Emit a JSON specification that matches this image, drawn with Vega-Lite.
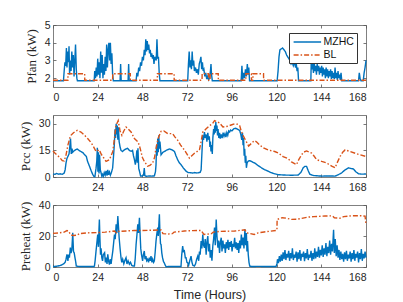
{
"$schema": "https://vega.github.io/schema/vega-lite/v6.json",
"padding": {"left": 18, "top": 19, "right": 38, "bottom": 1},
"autosize": {"type": "pad"},
"spacing": 28,
"bounds": "flush",
"background": "white",
"config": {
  "view": {"stroke": "#808080", "strokeWidth": 1},
  "axis": {"domain": false, "grid": false, "ticks": true, "tickSize": -3, "tickColor": "#555555", "tickWidth": 0.8,
           "labelFont": "Liberation Sans", "labelFontSize": 10.5, "labelColor": "#262626", "labelPadding": 8,
           "titleFont": "Liberation Sans", "titleFontSize": 12.5, "titleColor": "#262626", "titleFontWeight": "normal"},
  "axisY": {"titleFont": "Liberation Serif", "titleFontSize": 13, "titlePadding": 6, "labelPadding": 6},
  "legend": {"orient": "none", "legendX": 236, "legendY": 8, "title": null, "fillColor": "white", "strokeColor": "#333333",
             "padding": 2.5, "labelFont": "Liberation Sans", "labelFontSize": 10.5, "labelColor": "#111111",
             "symbolType": "M-0.8,0H4.2", "symbolSize": 121, "symbolStrokeWidth": 1.4, "labelOffset": 19, "rowPadding": 1},
  "line": {"strokeWidth": 1.4, "clip": true}
},
"resolve": {"scale": {"color": "independent", "strokeDash": "independent"}, "legend": {"color": "independent", "strokeDash": "independent"}},
"datasets": {
 "fanM": [{"t":0,"v":1.85},{"t":5.6,"v":1.85},{"t":6,"v":2.4},{"t":6.4,"v":2.9},{"t":6.8,"v":2.7},{"t":7.2,"v":3.7},{"t":7.5,"v":2.6},{"t":7.9,"v":3.5},{"t":8.3,"v":2.9},{"t":8.6,"v":3.8},{"t":8.9,"v":2.2},{"t":9.3,"v":3.0},{"t":9.7,"v":2.4},{"t":10.1,"v":3.5},{"t":10.5,"v":2.6},{"t":10.9,"v":3.3},{"t":11.3,"v":2.1},{"t":11.7,"v":3.0},{"t":12.1,"v":3.9},{"t":12.5,"v":2.5},{"t":12.8,"v":2.0},{"t":13.1,"v":1.85},
  {"t":22.1,"v":1.85},{"t":22.4,"v":2.4},{"t":22.8,"v":2.0},{"t":23.2,"v":2.6},{"t":23.6,"v":2.1},{"t":24,"v":3.1},{"t":24.4,"v":2.2},{"t":24.8,"v":2.9},{"t":25.2,"v":2.0},{"t":25.6,"v":3.5},{"t":26,"v":2.3},{"t":26.4,"v":3.3},{"t":26.8,"v":2.0},{"t":27.2,"v":2.8},{"t":27.6,"v":2.2},{"t":28,"v":3.2},{"t":28.4,"v":2.4},{"t":28.8,"v":3.9},{"t":29.2,"v":2.6},{"t":29.6,"v":3.6},{"t":30,"v":4.0},{"t":30.4,"v":3.0},{"t":30.8,"v":4.0},{"t":31.2,"v":2.8},{"t":31.6,"v":3.4},{"t":32,"v":2.2},{"t":32.4,"v":1.85},
  {"t":36,"v":1.85},{"t":36.3,"v":2.8},{"t":36.6,"v":1.85},{"t":40.3,"v":1.85},{"t":40.6,"v":2.8},{"t":40.9,"v":1.85},
  {"t":44.6,"v":1.85},{"t":45,"v":2.3},{"t":45.5,"v":2.1},{"t":46,"v":2.6},{"t":46.5,"v":2.4},{"t":47,"v":2.9},{"t":47.5,"v":2.7},{"t":48,"v":3.2},{"t":48.5,"v":3.0},{"t":49,"v":3.6},{"t":49.4,"v":3.3},{"t":49.8,"v":4.2},{"t":50.2,"v":3.5},{"t":50.6,"v":4.1},{"t":51,"v":3.6},{"t":51.4,"v":3.9},{"t":51.8,"v":3.4},{"t":52.2,"v":3.6},{"t":52.6,"v":3.2},{"t":53,"v":3.4},{"t":53.4,"v":3.1},{"t":53.8,"v":3.3},{"t":54.2,"v":2.8},{"t":54.6,"v":3.2},{"t":55,"v":3.1},{"t":55.4,"v":3.0},{"t":55.8,"v":4.2},{"t":56.2,"v":3.1},{"t":56.6,"v":3.2},{"t":57,"v":2.3},{"t":57.4,"v":1.85},
  {"t":72.3,"v":1.85},{"t":72.7,"v":2.8},{"t":73.1,"v":3.5},{"t":73.5,"v":2.6},{"t":73.9,"v":3.0},{"t":74.3,"v":2.5},{"t":74.7,"v":3.5},{"t":75.1,"v":2.7},{"t":75.5,"v":3.0},{"t":75.9,"v":2.4},{"t":76.5,"v":2.6},{"t":77,"v":2.3},{"t":77.5,"v":2.5},{"t":78,"v":2.2},{"t":78.5,"v":2.8},{"t":79,"v":3.0},{"t":79.4,"v":3.2},{"t":79.8,"v":2.5},{"t":80.2,"v":2.9},{"t":80.6,"v":2.4},{"t":81,"v":2.5},{"t":81.5,"v":2.1},{"t":82,"v":2.3},{"t":82.5,"v":1.95},{"t":83,"v":2.1},{"t":83.5,"v":1.9},{"t":84,"v":2.0},{"t":84.5,"v":2.4},{"t":84.8,"v":2.8},{"t":85.1,"v":2.2},{"t":85.5,"v":1.85},
  {"t":101,"v":1.85},{"t":101.4,"v":2.7},{"t":101.8,"v":1.9},{"t":102.3,"v":2.3},{"t":102.8,"v":2.0},{"t":103.3,"v":2.5},{"t":103.8,"v":2.1},{"t":104.3,"v":2.8},{"t":104.7,"v":2.2},{"t":105.1,"v":2.6},{"t":105.5,"v":1.85},
  {"t":120.3,"v":1.85},{"t":120.8,"v":2.4},{"t":121.3,"v":3.2},{"t":121.8,"v":3.6},{"t":122.5,"v":3.65},{"t":123.2,"v":3.7},{"t":124,"v":3.6},{"t":124.7,"v":3.5},{"t":125.4,"v":3.3},{"t":126,"v":3.2},{"t":126.6,"v":3.1},{"t":127.2,"v":3.0},{"t":127.8,"v":2.8},{"t":128.4,"v":2.9},{"t":129,"v":2.7},{"t":129.6,"v":2.9},{"t":130.2,"v":2.6},{"t":130.6,"v":2.8},{"t":131,"v":2.4},{"t":131.4,"v":2.6},{"t":131.8,"v":1.85},
  {"t":138.4,"v":1.85},{"t":138.6,"v":2.9},{"t":139,"v":2.5},{"t":139.4,"v":2.8},{"t":139.8,"v":2.3},{"t":140.2,"v":2.9},{"t":140.6,"v":2.4},{"t":141,"v":2.7},{"t":141.4,"v":2.2},{"t":141.8,"v":2.8},{"t":142.2,"v":2.4},{"t":142.6,"v":2.7},{"t":143,"v":2.2},{"t":143.4,"v":2.6},{"t":143.8,"v":2.3},{"t":144.2,"v":2.7},{"t":144.6,"v":2.1},{"t":145,"v":2.6},{"t":145.4,"v":2.2},{"t":145.8,"v":2.5},{"t":146.2,"v":2.0},{"t":146.6,"v":2.6},{"t":147,"v":2.1},{"t":147.4,"v":2.5},{"t":147.8,"v":2.0},{"t":148.2,"v":2.4},{"t":148.6,"v":2.1},{"t":149,"v":2.5},{"t":149.4,"v":1.95},{"t":149.8,"v":2.4},{"t":150.2,"v":2.0},{"t":150.6,"v":2.3},{"t":151,"v":1.95},{"t":151.4,"v":2.6},{"t":151.8,"v":2.0},{"t":152.2,"v":2.3},{"t":152.6,"v":1.9},{"t":153,"v":2.4},{"t":153.4,"v":2.0},{"t":153.8,"v":2.2},{"t":154.2,"v":1.9},{"t":154.6,"v":2.3},{"t":155,"v":1.85},
  {"t":164,"v":1.85},{"t":164.4,"v":2.3},{"t":164.8,"v":2.0},{"t":165.3,"v":1.85},{"t":166.5,"v":1.85},{"t":167,"v":2.3},{"t":167.5,"v":2.6},{"t":168,"v":3.0}],
 "fanB": [{"t":0,"v":1.88},{"t":8,"v":1.88},{"t":8.05,"v":2.25},{"t":17,"v":2.25},{"t":17.05,"v":1.88},{"t":32,"v":1.88},{"t":32.05,"v":2.25},{"t":41.5,"v":2.25},{"t":41.55,"v":1.88},{"t":56,"v":1.88},{"t":56.05,"v":2.25},{"t":65,"v":2.25},{"t":65.05,"v":1.88},{"t":80,"v":1.88},{"t":80.05,"v":2.25},{"t":83.5,"v":2.25},{"t":83.55,"v":1.88},{"t":84.3,"v":1.88},{"t":84.35,"v":2.25},{"t":88.7,"v":2.25},{"t":88.75,"v":1.88},{"t":103.5,"v":1.88},{"t":103.55,"v":2.25},{"t":106.5,"v":2.25},{"t":106.55,"v":1.88},{"t":107.3,"v":1.88},{"t":107.35,"v":2.25},{"t":113,"v":2.25},{"t":113.05,"v":1.88},{"t":168,"v":1.88}],
 "ccM": [{"t":0,"v":1.8},{"t":1,"v":1.5},{"t":2,"v":2.0},{"t":3,"v":1.6},{"t":4,"v":1.8},{"t":5,"v":1.5},{"t":6,"v":2.2},{"t":6.5,"v":4},{"t":7,"v":8},{"t":7.5,"v":10.5},{"t":8,"v":11.6},{"t":8.6,"v":13},{"t":9,"v":17},{"t":9.4,"v":21.7},{"t":9.8,"v":13},{"t":10.2,"v":16},{"t":10.6,"v":14},{"t":11,"v":14.5},{"t":12,"v":15.3},{"t":13,"v":15.8},{"t":14,"v":15},{"t":15,"v":14.4},{"t":16,"v":13.8},{"t":17,"v":12.5},{"t":17.9,"v":11.6},{"t":18.5,"v":9},{"t":19.6,"v":6},{"t":20.5,"v":3.5},{"t":21.3,"v":1.5},{"t":22,"v":0.3},{"t":22.5,"v":0.2},{"t":23.1,"v":5},{"t":23.5,"v":9},{"t":23.8,"v":16.5},{"t":24.1,"v":3},{"t":24.4,"v":14},{"t":24.7,"v":2},{"t":25,"v":12.5},{"t":25.4,"v":4},{"t":25.8,"v":2.4},{"t":26.2,"v":0.5},{"t":26.6,"v":1.5},{"t":27,"v":0.4},{"t":27.5,"v":2.5},{"t":28,"v":1},{"t":28.5,"v":3.5},{"t":29,"v":0.8},{"t":29.4,"v":4},{"t":29.8,"v":1.2},{"t":30.3,"v":2.8},{"t":30.8,"v":1},{"t":31.3,"v":2.4},{"t":32,"v":5},{"t":32.5,"v":12},{"t":32.9,"v":18},{"t":33.3,"v":27},{"t":33.6,"v":22},{"t":33.9,"v":30},{"t":34.2,"v":24},{"t":34.5,"v":29},{"t":34.8,"v":21},{"t":35.1,"v":28},{"t":35.5,"v":20},{"t":36,"v":17},{"t":36.5,"v":15},{"t":37.3,"v":14.4},{"t":38.5,"v":15.5},{"t":40,"v":16.2},{"t":41,"v":15},{"t":42,"v":14.5},{"t":42.7,"v":15},{"t":43.2,"v":12},{"t":43.7,"v":9.8},{"t":44.2,"v":7},{"t":44.6,"v":10},{"t":45,"v":15},{"t":45.3,"v":8},{"t":45.6,"v":16.2},{"t":46,"v":5},{"t":46.4,"v":3.3},{"t":47,"v":0.6},{"t":48,"v":0.6},{"t":48.6,"v":1.1},{"t":49,"v":5},{"t":49.3,"v":0.8},{"t":50,"v":0.4},{"t":51,"v":0.5},{"t":52,"v":0.6},{"t":53,"v":0.5},{"t":54.4,"v":0.6},{"t":55,"v":3},{"t":55.3,"v":7},{"t":55.6,"v":18},{"t":55.9,"v":12},{"t":56.2,"v":21.7},{"t":56.5,"v":14},{"t":56.8,"v":23.5},{"t":57.1,"v":16},{"t":57.4,"v":20},{"t":58,"v":12.5},{"t":59,"v":14},{"t":59.8,"v":14.4},{"t":61,"v":15.2},{"t":62.5,"v":15.8},{"t":64,"v":15.3},{"t":65.2,"v":14.4},{"t":66,"v":12},{"t":66.9,"v":9.8},{"t":67.8,"v":8},{"t":68.7,"v":7},{"t":70,"v":5},{"t":71.4,"v":3.3},{"t":72.5,"v":2.5},{"t":74.1,"v":2.4},{"t":75,"v":2.2},{"t":76,"v":2.5},{"t":77,"v":2.3},{"t":78,"v":2.4},{"t":79,"v":2.6},{"t":79.5,"v":4},{"t":80,"v":15},{"t":80.4,"v":23.5},{"t":80.8,"v":21},{"t":81.3,"v":25.4},{"t":81.7,"v":22},{"t":82.2,"v":24},{"t":82.6,"v":20},{"t":83.1,"v":25},{"t":83.5,"v":21},{"t":83.9,"v":23},{"t":84.2,"v":17},{"t":84.5,"v":20},{"t":84.8,"v":14.4},{"t":85.1,"v":18},{"t":85.5,"v":13},{"t":85.8,"v":22},{"t":86.2,"v":27},{"t":86.5,"v":24},{"t":86.8,"v":29},{"t":87.1,"v":25},{"t":87.4,"v":31},{"t":87.7,"v":26},{"t":88,"v":29},{"t":88.3,"v":23.5},{"t":88.6,"v":27},{"t":89,"v":22},{"t":89.4,"v":25},{"t":89.8,"v":21.7},{"t":90.3,"v":24},{"t":90.8,"v":22},{"t":91.3,"v":25},{"t":91.8,"v":23},{"t":92.3,"v":24.5},{"t":92.8,"v":22.5},{"t":93.3,"v":25},{"t":93.8,"v":23.5},{"t":94.3,"v":26},{"t":94.8,"v":25.4},{"t":95.3,"v":26.5},{"t":96,"v":26},{"t":97,"v":27.2},{"t":98,"v":27.5},{"t":99,"v":27},{"t":100.2,"v":26.3},{"t":100.8,"v":24},{"t":101.3,"v":21},{"t":101.7,"v":25},{"t":102,"v":18},{"t":102.3,"v":22},{"t":102.6,"v":12},{"t":102.9,"v":16},{"t":103.2,"v":8},{"t":103.5,"v":12},{"t":103.8,"v":5.2},{"t":104.2,"v":8},{"t":104.8,"v":9},{"t":105.6,"v":9.2},{"t":106.5,"v":8.8},{"t":107.5,"v":8.2},{"t":108.3,"v":7.9},{"t":110,"v":6.5},{"t":111.9,"v":5.2},{"t":113.5,"v":4.2},{"t":115.4,"v":3.3},{"t":117,"v":2.5},{"t":119,"v":1.8},{"t":121,"v":1.3},{"t":124.4,"v":1.1},{"t":128,"v":1.0},{"t":131.6,"v":1.1},{"t":133,"v":2.5},{"t":134.3,"v":5.2},{"t":135.2,"v":6},{"t":136.1,"v":6},{"t":137,"v":3.5},{"t":137.9,"v":1.5},{"t":140,"v":0.8},{"t":144.2,"v":0.5},{"t":148,"v":0.6},{"t":151.4,"v":0.5},{"t":153,"v":1.2},{"t":155,"v":2.4},{"t":156.5,"v":3.8},{"t":158.6,"v":5.2},{"t":160,"v":4.8},{"t":161.3,"v":4.5},{"t":162.5,"v":3},{"t":164,"v":1.8},{"t":166,"v":1.6},{"t":168,"v":1.7}],
 "ccB": [{"t":0,"v":14.7},{"t":1,"v":13.5},{"t":2,"v":12.5},{"t":3,"v":11.6},{"t":4,"v":10.5},{"t":5,"v":9.2},{"t":6,"v":9},{"t":7,"v":12.5},{"t":8,"v":18},{"t":9,"v":22},{"t":9.6,"v":23.5},{"t":11,"v":25},{"t":13,"v":26.3},{"t":15,"v":25.4},{"t":17,"v":23.5},{"t":18.6,"v":21.7},{"t":20,"v":20},{"t":21.3,"v":18},{"t":23.1,"v":14.4},{"t":24.9,"v":15.3},{"t":25.8,"v":13},{"t":26.7,"v":11.6},{"t":28.5,"v":8.8},{"t":30.3,"v":9.8},{"t":32.1,"v":14.4},{"t":33,"v":22},{"t":33.8,"v":29},{"t":35,"v":31.8},{"t":36,"v":26},{"t":37,"v":23.5},{"t":38,"v":26},{"t":39.2,"v":28.2},{"t":40.5,"v":27},{"t":41.9,"v":25.4},{"t":43.7,"v":21.7},{"t":45.5,"v":19.9},{"t":46.3,"v":18},{"t":47.2,"v":14.4},{"t":48,"v":11},{"t":49,"v":8.8},{"t":50.8,"v":6.1},{"t":52,"v":6.5},{"t":53.5,"v":7.9},{"t":54.5,"v":11},{"t":55.3,"v":16.2},{"t":56.5,"v":22},{"t":58,"v":25.8},{"t":59.5,"v":26},{"t":61.6,"v":24.5},{"t":64.2,"v":24.5},{"t":65.5,"v":22.5},{"t":66.9,"v":20.8},{"t":68.5,"v":18},{"t":70.5,"v":15.3},{"t":73.2,"v":10.7},{"t":74.5,"v":12},{"t":75.9,"v":13.4},{"t":78.6,"v":15.3},{"t":79.5,"v":20},{"t":80.4,"v":25.4},{"t":82.2,"v":27.2},{"t":84,"v":29},{"t":85.5,"v":30},{"t":86.7,"v":31.8},{"t":89.4,"v":30.5},{"t":91.2,"v":28.2},{"t":93.9,"v":28.7},{"t":96,"v":29.5},{"t":97.5,"v":30},{"t":99,"v":29.8},{"t":100.2,"v":29},{"t":101,"v":26},{"t":102,"v":23.5},{"t":103.8,"v":19.9},{"t":105,"v":17.5},{"t":106.5,"v":19},{"t":108,"v":20.5},{"t":109.2,"v":19.9},{"t":111,"v":18},{"t":113,"v":16.5},{"t":115.4,"v":15.3},{"t":119,"v":14.4},{"t":121,"v":13.5},{"t":123.5,"v":11.5},{"t":126,"v":10.5},{"t":128,"v":8.5},{"t":130.7,"v":7},{"t":132,"v":10},{"t":133.4,"v":12.5},{"t":134.5,"v":14},{"t":136.1,"v":14.7},{"t":138.8,"v":13.5},{"t":140,"v":12},{"t":141.5,"v":9.8},{"t":144.2,"v":8.8},{"t":146.9,"v":7.9},{"t":149.6,"v":6.1},{"t":151.4,"v":5.2},{"t":152.5,"v":8},{"t":154.1,"v":11.6},{"t":155.5,"v":14},{"t":156.8,"v":15.3},{"t":159.5,"v":14.4},{"t":162.2,"v":13.4},{"t":164.9,"v":12.5},{"t":168,"v":11.6}],
 "rhM": [{"t":0,"v":0.3},{"t":2,"v":0.5},{"t":4,"v":1},{"t":5.7,"v":2},{"t":6.5,"v":3},{"t":7,"v":5},{"t":7.5,"v":8.2},{"t":8,"v":4},{"t":8.4,"v":8},{"t":8.8,"v":6},{"t":9.3,"v":12.5},{"t":9.7,"v":9},{"t":10.1,"v":11},{"t":10.6,"v":22},{"t":11,"v":10},{"t":11.4,"v":9},{"t":11.8,"v":6},{"t":12.1,"v":4},{"t":12.5,"v":0.6},{"t":14,"v":0.3},{"t":18,"v":0.3},{"t":22.2,"v":0.3},{"t":22.6,"v":4},{"t":23.1,"v":10.3},{"t":23.5,"v":15},{"t":24,"v":21},{"t":24.4,"v":13},{"t":24.7,"v":25},{"t":24.9,"v":30.7},{"t":25.2,"v":18},{"t":25.5,"v":8},{"t":25.8,"v":12},{"t":26.2,"v":6},{"t":26.6,"v":4},{"t":27,"v":8},{"t":27.7,"v":9.2},{"t":28.1,"v":3},{"t":28.5,"v":6},{"t":29,"v":2},{"t":29.4,"v":8.2},{"t":29.8,"v":4},{"t":30.3,"v":1.5},{"t":30.7,"v":5},{"t":31.2,"v":2},{"t":31.6,"v":6},{"t":32.1,"v":10.3},{"t":32.5,"v":15},{"t":33,"v":21},{"t":33.4,"v":18},{"t":33.9,"v":27.5},{"t":34.3,"v":22},{"t":34.8,"v":32.9},{"t":35.2,"v":25},{"t":35.5,"v":18.9},{"t":36,"v":12},{"t":36.5,"v":6},{"t":36.9,"v":3},{"t":37.4,"v":5},{"t":38,"v":2},{"t":38.5,"v":4},{"t":39.2,"v":6},{"t":39.7,"v":2},{"t":40.3,"v":4},{"t":41,"v":1.8},{"t":41.6,"v":3},{"t":42.3,"v":1},{"t":43,"v":0.6},{"t":43.7,"v":0.6},{"t":44.1,"v":5},{"t":44.6,"v":14.6},{"t":45,"v":20},{"t":45.5,"v":27.5},{"t":45.9,"v":22},{"t":46.4,"v":31.8},{"t":46.8,"v":20},{"t":47.1,"v":12},{"t":47.5,"v":8},{"t":48.1,"v":4},{"t":48.5,"v":8},{"t":49,"v":10.3},{"t":49.4,"v":5},{"t":49.9,"v":7},{"t":50.3,"v":4},{"t":50.8,"v":5},{"t":51.3,"v":3},{"t":51.7,"v":6},{"t":52.2,"v":4},{"t":52.6,"v":7},{"t":53.1,"v":3},{"t":53.5,"v":5},{"t":54,"v":3},{"t":54.4,"v":4},{"t":54.8,"v":9},{"t":55.3,"v":16.8},{"t":55.7,"v":21},{"t":56.2,"v":25.4},{"t":56.5,"v":20},{"t":57.1,"v":34},{"t":57.4,"v":22},{"t":57.7,"v":15},{"t":58,"v":14.5},{"t":58.4,"v":9},{"t":58.8,"v":6},{"t":59.3,"v":3.5},{"t":59.8,"v":2.5},{"t":60.3,"v":1},{"t":60.7,"v":0.2},{"t":62,"v":0.3},{"t":65,"v":0.3},{"t":68.7,"v":0.3},{"t":69.1,"v":8},{"t":69.6,"v":13.5},{"t":70,"v":10},{"t":70.5,"v":10.5},{"t":71,"v":6},{"t":71.4,"v":6},{"t":71.9,"v":3},{"t":72.3,"v":2.7},{"t":72.8,"v":1},{"t":73.4,"v":4},{"t":74.1,"v":7},{"t":74.6,"v":3},{"t":75.1,"v":1},{"t":75.9,"v":0.6},{"t":76.5,"v":2},{"t":77.1,"v":5},{"t":77.7,"v":7},{"t":78.2,"v":4},{"t":78.6,"v":10},{"t":79,"v":8},{"t":79.5,"v":16.8},{"t":79.9,"v":12},{"t":80.4,"v":21},{"t":80.8,"v":14},{"t":81.3,"v":12.5},{"t":81.7,"v":18},{"t":82.2,"v":8},{"t":82.6,"v":16},{"t":83.1,"v":20},{"t":83.5,"v":10},{"t":84,"v":15},{"t":84.4,"v":6},{"t":84.9,"v":11},{"t":85.3,"v":4},{"t":85.8,"v":14},{"t":86.2,"v":18},{"t":86.7,"v":25.4},{"t":87.1,"v":14},{"t":87.6,"v":30.7},{"t":88,"v":20},{"t":88.5,"v":12.5},{"t":88.9,"v":17},{"t":89.4,"v":9},{"t":89.8,"v":16},{"t":90.3,"v":18.9},{"t":90.7,"v":10},{"t":91.2,"v":17},{"t":91.6,"v":12},{"t":92.1,"v":14.6},{"t":92.5,"v":9},{"t":93,"v":16},{"t":93.4,"v":12},{"t":93.9,"v":17.6},{"t":94.3,"v":11},{"t":94.8,"v":16},{"t":95.2,"v":13},{"t":95.7,"v":16.8},{"t":96.1,"v":10},{"t":96.6,"v":15},{"t":97,"v":13},{"t":97.5,"v":18.9},{"t":97.9,"v":12},{"t":98.4,"v":16},{"t":98.8,"v":11},{"t":99.3,"v":15.5},{"t":99.7,"v":9},{"t":100.2,"v":17},{"t":100.6,"v":12},{"t":101.1,"v":21},{"t":101.5,"v":14},{"t":102,"v":19},{"t":102.5,"v":12},{"t":103,"v":24.3},{"t":103.4,"v":14},{"t":103.8,"v":22},{"t":104.1,"v":10},{"t":104.4,"v":16.8},{"t":104.8,"v":8},{"t":105.2,"v":3},{"t":105.6,"v":0.6},{"t":106.5,"v":0.3},{"t":110,"v":0.4},{"t":115,"v":0.3},{"t":119.7,"v":0.3},{"t":120.2,"v":2},{"t":120.5,"v":5},{"t":121,"v":2.5},{"t":121.5,"v":7},{"t":122,"v":3.5},{"t":122.5,"v":8},{"t":123,"v":4},{"t":123.5,"v":9.5},{"t":124,"v":5},{"t":124.5,"v":11},{"t":125,"v":4.5},{"t":125.5,"v":8.5},{"t":126,"v":6},{"t":126.5,"v":10.5},{"t":127,"v":4},{"t":127.5,"v":9},{"t":128,"v":5.5},{"t":128.5,"v":12},{"t":129,"v":4.5},{"t":129.5,"v":8},{"t":130,"v":6},{"t":130.5,"v":10},{"t":131,"v":3.5},{"t":131.5,"v":9.5},{"t":132,"v":5},{"t":132.5,"v":11},{"t":133,"v":4},{"t":133.5,"v":8.5},{"t":134,"v":6.5},{"t":134.5,"v":10},{"t":135,"v":3.8},{"t":135.5,"v":9},{"t":136,"v":5.5},{"t":136.5,"v":11.5},{"t":137,"v":4.5},{"t":137.5,"v":8},{"t":138,"v":6},{"t":138.5,"v":10.5},{"t":139,"v":4},{"t":139.5,"v":9},{"t":140,"v":5},{"t":140.5,"v":12},{"t":141,"v":5.5},{"t":141.5,"v":10},{"t":142,"v":6.5},{"t":142.5,"v":13},{"t":143,"v":6},{"t":143.5,"v":11},{"t":144,"v":7.5},{"t":144.5,"v":14},{"t":145,"v":6.5},{"t":145.5,"v":12},{"t":146,"v":8},{"t":146.5,"v":15.5},{"t":147,"v":7},{"t":147.5,"v":13},{"t":148,"v":9},{"t":148.5,"v":17},{"t":149,"v":8},{"t":149.5,"v":15},{"t":150,"v":10},{"t":150.6,"v":24},{"t":151,"v":9},{"t":151.5,"v":18},{"t":152,"v":7},{"t":152.5,"v":14},{"t":153,"v":6},{"t":153.5,"v":11},{"t":154,"v":4.5},{"t":154.5,"v":10},{"t":155,"v":5},{"t":155.5,"v":8.5},{"t":156,"v":3.5},{"t":156.5,"v":9.5},{"t":157,"v":5},{"t":157.5,"v":10.5},{"t":158,"v":4},{"t":158.5,"v":8},{"t":159,"v":5.5},{"t":159.5,"v":10},{"t":160,"v":3.5},{"t":160.5,"v":9},{"t":161,"v":5},{"t":161.5,"v":11},{"t":162,"v":4},{"t":162.5,"v":8.5},{"t":163,"v":6},{"t":163.5,"v":10},{"t":164,"v":3},{"t":164.5,"v":9},{"t":165,"v":5},{"t":165.5,"v":11.5},{"t":166,"v":4},{"t":166.5,"v":8.5},{"t":167,"v":5.5},{"t":167.5,"v":10},{"t":168,"v":6}],
 "rhB": [{"t":0,"v":21.7},{"t":3,"v":22},{"t":6,"v":22.5},{"t":7.5,"v":23.5},{"t":8.5,"v":23},{"t":9.5,"v":20.6},{"t":11,"v":20.3},{"t":13.2,"v":20.6},{"t":14,"v":21.5},{"t":18,"v":22},{"t":24,"v":22.2},{"t":28,"v":22.5},{"t":33,"v":23.2},{"t":34,"v":22},{"t":35,"v":23},{"t":40,"v":23.3},{"t":43.6,"v":23.6},{"t":48,"v":23.5},{"t":52,"v":23.7},{"t":58,"v":23.9},{"t":59,"v":21.5},{"t":62,"v":21.3},{"t":64,"v":21.5},{"t":65,"v":22.5},{"t":70.5,"v":23.2},{"t":75,"v":23.5},{"t":79.5,"v":23.6},{"t":81,"v":21},{"t":85,"v":21.5},{"t":86,"v":22.5},{"t":90,"v":23},{"t":97.5,"v":23.2},{"t":103,"v":24},{"t":104,"v":22},{"t":106,"v":21.5},{"t":108,"v":21},{"t":110,"v":22},{"t":113.3,"v":22.6},{"t":119.7,"v":23.6},{"t":120.2,"v":23.8},{"t":120.3,"v":30.7},{"t":123,"v":31.8},{"t":125,"v":31.5},{"t":128,"v":30.7},{"t":131,"v":30.8},{"t":137,"v":32.2},{"t":140,"v":32.5},{"t":146,"v":32.9},{"t":150,"v":33},{"t":151,"v":31.8},{"t":154,"v":31.5},{"t":156,"v":32.5},{"t":160,"v":33},{"t":165,"v":33.1},{"t":167.5,"v":32.8},{"t":168,"v":27.5}]
},
"vconcat": [
 {"width": 313, "height": 62,
  "layer": [
   {"data": {"name": "fanM"}, "mark": {"type": "line"},
    "encoding": {"x": {"field": "t", "type": "quantitative", "scale": {"domain": [0,168], "nice": false, "zero": false}, "axis": {"values": [0,24,48,72,96,120,144,168], "title": null}},
                 "y": {"field": "v", "type": "quantitative", "scale": {"domain": [1.5,5], "nice": false, "zero": false}, "axis": {"values": [2,3,4,5], "title": "Pfan (kW)"}},
                 "color": {"datum": "MZHC", "type": "nominal", "scale": {"domain": ["MZHC","BL"], "range": ["#0072BD","#D95319"]}},
                 "strokeDash": {"datum": "MZHC", "type": "nominal", "scale": {"domain": ["MZHC","BL"], "range": [[1,0],[5,2,1.5,2]]}}}},
   {"data": {"name": "fanB"}, "mark": {"type": "line"},
    "encoding": {"x": {"field": "t", "type": "quantitative", "axis": null},
                 "y": {"field": "v", "type": "quantitative", "axis": null},
                 "color": {"datum": "BL", "type": "nominal"},
                 "strokeDash": {"datum": "BL", "type": "nominal"}}},
   {"data": {"name": "fanB"}, "mark": {"type": "line", "opacity": 0},
    "encoding": {"x": {"field": "t", "type": "quantitative", "axis": {"orient": "top", "values": [0,24,48,72,96,120,144,168], "labels": false, "title": null}},
                 "y": {"field": "v", "type": "quantitative", "axis": {"orient": "right", "values": [2,3,4,5], "labels": false, "title": null}}}}
  ],
  "resolve": {"axis": {"x": "independent", "y": "independent"}}
 },
 {"width": 313, "height": 62,
  "layer": [
   {"data": {"name": "ccM"}, "mark": {"type": "line"},
    "encoding": {"x": {"field": "t", "type": "quantitative", "scale": {"domain": [0,168], "nice": false, "zero": false}, "axis": {"values": [0,24,48,72,96,120,144,168], "title": null, "labelExpr": "datum.value == 0 ? '' : datum.label"}},
                 "y": {"field": "v", "type": "quantitative", "scale": {"domain": [0,35], "nice": false}, "axis": {"values": [0,15,30], "title": "Pcc (kW)"}},
                 "color": {"datum": "MZHC", "type": "nominal", "scale": {"domain": ["MZHC","BL"], "range": ["#0072BD","#D95319"]}, "legend": null},
                 "strokeDash": {"datum": "MZHC", "type": "nominal", "scale": {"domain": ["MZHC","BL"], "range": [[1,0],[5,2,1.5,2]]}, "legend": null}}},
   {"data": {"name": "ccB"}, "mark": {"type": "line"},
    "encoding": {"x": {"field": "t", "type": "quantitative", "axis": null},
                 "y": {"field": "v", "type": "quantitative", "axis": null},
                 "color": {"datum": "BL", "type": "nominal", "legend": null},
                 "strokeDash": {"datum": "BL", "type": "nominal", "legend": null}}},
   {"data": {"name": "ccB"}, "mark": {"type": "line", "opacity": 0},
    "encoding": {"x": {"field": "t", "type": "quantitative", "axis": {"orient": "top", "values": [0,24,48,72,96,120,144,168], "labels": false, "title": null}},
                 "y": {"field": "v", "type": "quantitative", "axis": {"orient": "right", "values": [0,15,30], "labels": false, "title": null}}}}
  ],
  "resolve": {"axis": {"x": "independent", "y": "independent"}}
 },
 {"width": 313, "height": 62,
  "layer": [
   {"data": {"name": "rhM"}, "mark": {"type": "line"},
    "encoding": {"x": {"field": "t", "type": "quantitative", "scale": {"domain": [0,168], "nice": false, "zero": false}, "axis": {"values": [0,24,48,72,96,120,144,168], "title": "Time (Hours)", "titlePadding": 6}},
                 "y": {"field": "v", "type": "quantitative", "scale": {"domain": [0,40], "nice": false}, "axis": {"values": [0,20,40], "title": "Preheat (kW)"}},
                 "color": {"datum": "MZHC", "type": "nominal", "scale": {"domain": ["MZHC","BL"], "range": ["#0072BD","#D95319"]}, "legend": null},
                 "strokeDash": {"datum": "MZHC", "type": "nominal", "scale": {"domain": ["MZHC","BL"], "range": [[1,0],[5,2,1.5,2]]}, "legend": null}}},
   {"data": {"name": "rhB"}, "mark": {"type": "line"},
    "encoding": {"x": {"field": "t", "type": "quantitative", "axis": null},
                 "y": {"field": "v", "type": "quantitative", "axis": null},
                 "color": {"datum": "BL", "type": "nominal", "legend": null},
                 "strokeDash": {"datum": "BL", "type": "nominal", "legend": null}}},
   {"data": {"name": "rhB"}, "mark": {"type": "line", "opacity": 0},
    "encoding": {"x": {"field": "t", "type": "quantitative", "axis": {"orient": "top", "values": [0,24,48,72,96,120,144,168], "labels": false, "title": null}},
                 "y": {"field": "v", "type": "quantitative", "axis": {"orient": "right", "values": [0,20,40], "labels": false, "title": null}}}}
  ],
  "resolve": {"axis": {"x": "independent", "y": "independent"}}
 }
]
}
